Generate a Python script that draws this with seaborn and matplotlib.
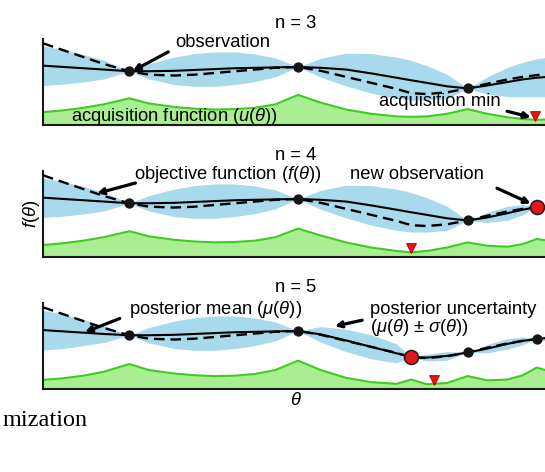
import numpy as np
import matplotlib
matplotlib.use("Agg")
import matplotlib.pyplot as plt
import seaborn as sns

# sample positions along theta (0 = left axis, 1 = right edge)
theta = [0.00, 0.04, 0.08, 0.12, 0.171, 0.21, 0.26, 0.30, 0.34, 0.38, 0.42, 0.46, 0.505,
         0.55, 0.60, 0.65, 0.70, 0.729, 0.76, 0.80, 0.841, 0.88, 0.92, 0.95, 0.978, 1.00]

# true objective f(theta), dashed, same in all panels
objective = [0.95, 0.87, 0.79, 0.71, 0.625, 0.585, 0.575, 0.585, 0.605, 0.625, 0.645, 0.665, 0.675,
             0.63, 0.56, 0.49, 0.42, 0.37, 0.36, 0.38, 0.425, 0.48, 0.53, 0.56, 0.58, 0.595]

# n = 3
mean_n3 = [0.69, 0.675, 0.66, 0.645, 0.625, 0.625, 0.63, 0.64, 0.65, 0.66, 0.665, 0.67, 0.675,
           0.665, 0.645, 0.60, 0.55, 0.52, 0.49, 0.45, 0.425, 0.46, 0.50, 0.53, 0.55, 0.56]
sd_n3 = [0.23, 0.20, 0.16, 0.11, 0.0, 0.09, 0.16, 0.19, 0.20, 0.19, 0.16, 0.11, 0.0,
         0.11, 0.19, 0.23, 0.24, 0.23, 0.20, 0.14, 0.0, 0.10, 0.17, 0.20, 0.22, 0.23]
acq_n3 = [0.15, 0.17, 0.20, 0.24, 0.31, 0.25, 0.21, 0.19, 0.18, 0.185, 0.20, 0.24, 0.35,
          0.26, 0.18, 0.13, 0.10, 0.095, 0.10, 0.13, 0.185, 0.13, 0.09, 0.07, 0.06, 0.065]
obs_theta_n3 = [0.171, 0.505, 0.841]
obs_f_n3 = [0.625, 0.675, 0.425]

# n = 4
mean_n4 = [0.69, 0.675, 0.66, 0.645, 0.625, 0.625, 0.63, 0.64, 0.65, 0.66, 0.665, 0.67, 0.675,
           0.665, 0.645, 0.60, 0.55, 0.52, 0.49, 0.45, 0.425, 0.46, 0.51, 0.55, 0.58, 0.59]
sd_n4 = [0.23, 0.20, 0.16, 0.11, 0.0, 0.09, 0.16, 0.19, 0.20, 0.19, 0.16, 0.11, 0.0,
         0.11, 0.19, 0.23, 0.24, 0.23, 0.20, 0.14, 0.0, 0.06, 0.08, 0.06, 0.0, 0.04]
acq_n4 = [0.14, 0.16, 0.19, 0.23, 0.30, 0.24, 0.20, 0.18, 0.17, 0.175, 0.19, 0.23, 0.33,
          0.25, 0.17, 0.11, 0.07, 0.055, 0.07, 0.11, 0.17, 0.13, 0.12, 0.15, 0.21, 0.19]
obs_theta_n4 = [0.171, 0.505, 0.841]
obs_f_n4 = [0.625, 0.675, 0.425]
new_theta_n4 = [0.978]
new_f_n4 = [0.58]

# n = 5
mean_n5 = [0.685, 0.67, 0.655, 0.64, 0.625, 0.625, 0.63, 0.64, 0.65, 0.66, 0.665, 0.67, 0.675,
           0.635, 0.565, 0.49, 0.415, 0.37, 0.365, 0.385, 0.425, 0.47, 0.525, 0.56, 0.58, 0.595]
sd_n5 = [0.23, 0.20, 0.15, 0.10, 0.0, 0.09, 0.16, 0.19, 0.20, 0.19, 0.16, 0.11, 0.0,
         0.09, 0.13, 0.14, 0.11, 0.0, 0.04, 0.05, 0.0, 0.05, 0.06, 0.045, 0.0, 0.04]
acq_n5 = [0.105, 0.125, 0.155, 0.20, 0.29, 0.22, 0.18, 0.16, 0.15, 0.155, 0.175, 0.22, 0.33,
          0.22, 0.13, 0.08, 0.06, 0.11, 0.055, 0.07, 0.15, 0.10, 0.11, 0.16, 0.25, 0.21]
obs_theta_n5 = [0.171, 0.505, 0.841, 0.978]
obs_f_n5 = [0.625, 0.675, 0.425, 0.58]
new_theta_n5 = [0.729]
new_f_n5 = [0.37]

# acquisition minimum (red triangle) per panel
acq_min_theta = [0.975, 0.729, 0.774]
acq_min_y = [0.10, 0.10, 0.10]
titles = ["n = 3", "n = 4", "n = 5"]

BAND = "#a9d9ec"
ACQ_FILL = "#a9ee92"
ACQ_LINE = "#3fcc22"
RED = "#e8141c"
FS = 13.2

sns.set_theme(style="white")
plt.rcParams["font.family"] = ["Liberation Sans", "DejaVu Sans"]
plt.rcParams["text.color"] = "black"
plt.rcParams["axes.labelcolor"] = "black"
plt.rcParams["mathtext.fontset"] = "custom"
plt.rcParams["mathtext.rm"] = "Liberation Sans"
plt.rcParams["mathtext.it"] = "Liberation Sans:italic"

fig = plt.figure(figsize=(5.45, 4.72), dpi=100)
W, H = 545, 472
left, right = 43, 548
bottoms = [125, 257, 389]
ph = 86
axes = [fig.add_axes([left / W, (H - b) / H, (right - left) / W, ph / H]) for b in bottoms]

panels = [
    (mean_n3, sd_n3, acq_n3, obs_theta_n3, obs_f_n3, [], []),
    (mean_n4, sd_n4, acq_n4, obs_theta_n4, obs_f_n4, new_theta_n4, new_f_n4),
    (mean_n5, sd_n5, acq_n5, obs_theta_n5, obs_f_n5, new_theta_n5, new_f_n5),
]

for i, (ax, (mu, sd, acq, ot, of, nt, nf)) in enumerate(zip(axes, panels)):
    mu_a, sd_a = np.array(mu), np.array(sd)
    ax.fill_between(theta, mu_a - sd_a, mu_a + sd_a, color=BAND, lw=0, zorder=1)
    ax.fill_between(theta, 0, acq, color=ACQ_FILL, lw=0, zorder=1)
    sns.lineplot(x=theta, y=acq, ax=ax, color=ACQ_LINE, lw=1.5, zorder=2)
    sns.lineplot(x=theta, y=objective, ax=ax, color="black", lw=1.7,
                 linestyle=(0, (4.5, 2.5)), zorder=3)
    sns.lineplot(x=theta, y=mu, ax=ax, color="black", lw=1.5, zorder=3)
    sns.scatterplot(x=ot, y=of, ax=ax, color="#151515", s=55, linewidth=0, zorder=5)
    if nt:
        sns.scatterplot(x=nt, y=nf, ax=ax, color=RED, s=100, edgecolor="#222222",
                        linewidth=1.2, zorder=6)
    sns.scatterplot(x=[acq_min_theta[i]], y=[acq_min_y[i]], ax=ax, marker="v", color=RED,
                    s=48, edgecolor="#cc0000", linewidth=0.8, zorder=6)
    ax.set_xlim(0, 1)
    ax.set_ylim(0, 1)
    ax.set_xticks([])
    ax.set_yticks([])
    sns.despine(ax=ax)
    for s in ["left", "bottom"]:
        ax.spines[s].set_color("#1a1a1a")
        ax.spines[s].set_linewidth(1.5)
    ax.text(0.5, 1 + 15 / ph, titles[i], transform=ax.transAxes, ha="center", va="center",
            fontsize=FS)

arrow = dict(arrowstyle="-|>", lw=2.3, color="black", mutation_scale=9, shrinkA=0, shrinkB=0)
open_arrow = dict(arrowstyle="->", lw=2.3, color="black", mutation_scale=9, shrinkA=0, shrinkB=0)

ax1, ax2, ax3 = axes
ax1.text(0.261, 0.955, "observation", va="center", fontsize=FS)
ax1.annotate("", xy=(0.178, 0.63), xytext=(0.248, 0.85), arrowprops=arrow)
ax1.text(0.055, 0.095, r"acquisition function ($u(\theta)$)", va="center", fontsize=FS, zorder=7)
ax1.text(0.785, 0.27, "acquisition min", ha="center", va="center", fontsize=FS)
ax1.annotate("", xy=(0.966, 0.09), xytext=(0.919, 0.16), arrowprops=arrow)

ax2.text(0.18, 0.965, r"objective function ($f(\theta)$)", va="center", fontsize=FS)
ax2.annotate("", xy=(0.107, 0.74), xytext=(0.183, 0.86), arrowprops=open_arrow)
ax2.text(0.608, 0.965, "new observation", va="center", fontsize=FS)
ax2.annotate("", xy=(0.966, 0.62), xytext=(0.899, 0.80), arrowprops=arrow)
ax2.set_ylabel(r"$f(\theta)$", fontsize=FS, labelpad=1)

ax3.text(0.17, 0.93, r"posterior mean ($\mu(\theta)$)", va="center", fontsize=FS)
ax3.annotate("", xy=(0.083, 0.66), xytext=(0.152, 0.82), arrowprops=open_arrow)
ax3.text(0.648, 0.93, "posterior uncertainty", va="center", fontsize=FS)
ax3.text(0.648, 0.72, r"($\mu(\theta)$ $\pm$ $\sigma(\theta)$)", va="center", fontsize=FS)
ax3.annotate("", xy=(0.578, 0.73), xytext=(0.632, 0.80), arrowprops=open_arrow)
ax3.set_xlabel(r"$\theta$", fontsize=FS, labelpad=2)

fig.text(3 / W, 1 - 420 / H, "mization", family=["Liberation Serif", "DejaVu Serif"],
         fontsize=17.5, va="center", ha="left")

fig.savefig("out.png", dpi=100)
